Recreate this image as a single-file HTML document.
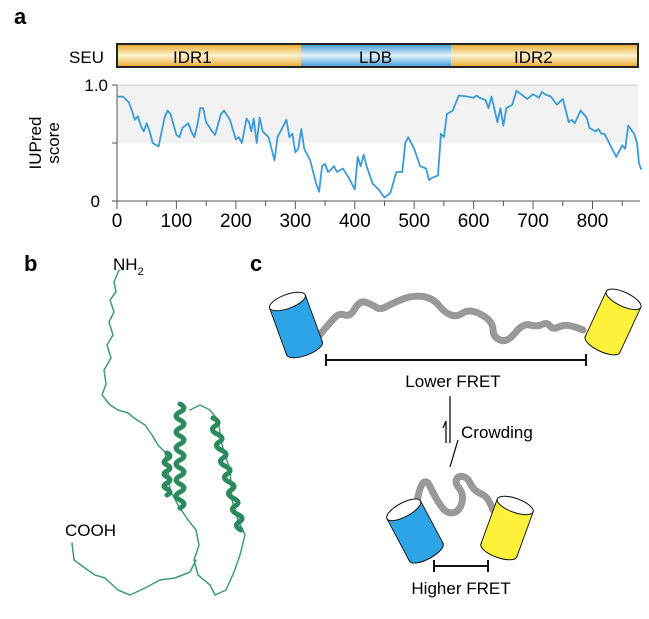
<!DOCTYPE html>
<html><head><meta charset="utf-8"><style>
html,body{margin:0;padding:0;background:#fff}
svg{display:block;font-family:"Liberation Sans",sans-serif}
</style></head><body>
<svg width="649" height="619" viewBox="0 0 649 619" xmlns="http://www.w3.org/2000/svg">
<defs>
<linearGradient id="gy" x1="0" y1="0" x2="0" y2="1">
<stop offset="0" stop-color="#e8a82a"/><stop offset="0.5" stop-color="#fdf3d0"/><stop offset="1" stop-color="#e8a82a"/></linearGradient>
<linearGradient id="gb" x1="0" y1="0" x2="0" y2="1">
<stop offset="0" stop-color="#3a9ad8"/><stop offset="0.5" stop-color="#e4f1fb"/><stop offset="1" stop-color="#3a9ad8"/></linearGradient>
</defs>
<text x="14" y="24" font-size="22" font-weight="bold">a</text>
<rect x="117" y="44" width="521" height="23" fill="url(#gy)"/>
<rect x="301" y="44" width="150" height="23" fill="url(#gb)"/>
<rect x="117" y="44" width="521" height="23" fill="none" stroke="#222" stroke-width="2"/>
<text x="69" y="63" font-size="17">SEU</text>
<text x="173" y="63" font-size="17">IDR1</text>
<text x="359" y="63" font-size="17">LDB</text>
<text x="514" y="63" font-size="17">IDR2</text>
<rect x="117" y="85" width="521" height="58" fill="#f2f2f2"/>
<line x1="117" y1="85" x2="117" y2="201" stroke="#555"/>
<line x1="117" y1="85" x2="638" y2="85" stroke="#bbb" stroke-width="0.8"/>
<line x1="117" y1="201" x2="640" y2="201" stroke="#555"/>
<line x1="112" y1="85" x2="117" y2="85" stroke="#555"/>
<line x1="112" y1="143" x2="117" y2="143" stroke="#555"/>
<line x1="112" y1="201" x2="117" y2="201" stroke="#555"/>
<text x="108" y="91" font-size="17" text-anchor="end">1.0</text>
<text x="100" y="207" font-size="17" text-anchor="end">0</text>
<text transform="translate(41,143) rotate(-90)" font-size="17" text-anchor="middle">IUPred</text>
<text transform="translate(59,143) rotate(-90)" font-size="17" text-anchor="middle">score</text>
<g stroke="#555">
<line x1="117" y1="201" x2="117" y2="209"/><line x1="146.7" y1="201" x2="146.7" y2="206"/>
<line x1="176.4" y1="201" x2="176.4" y2="209"/><line x1="206.2" y1="201" x2="206.2" y2="206"/>
<line x1="235.9" y1="201" x2="235.9" y2="209"/><line x1="265.6" y1="201" x2="265.6" y2="206"/>
<line x1="295.3" y1="201" x2="295.3" y2="209"/><line x1="325" y1="201" x2="325" y2="206"/>
<line x1="354.8" y1="201" x2="354.8" y2="209"/><line x1="384.5" y1="201" x2="384.5" y2="206"/>
<line x1="414.2" y1="201" x2="414.2" y2="209"/><line x1="443.9" y1="201" x2="443.9" y2="206"/>
<line x1="473.6" y1="201" x2="473.6" y2="209"/><line x1="503.4" y1="201" x2="503.4" y2="206"/>
<line x1="533.1" y1="201" x2="533.1" y2="209"/><line x1="562.8" y1="201" x2="562.8" y2="206"/>
<line x1="592.5" y1="201" x2="592.5" y2="209"/><line x1="622.2" y1="201" x2="622.2" y2="206"/>
</g>
<g font-size="19" text-anchor="middle">
<text x="117" y="227">0</text><text x="176.4" y="227">100</text><text x="235.9" y="227">200</text>
<text x="295.3" y="227">300</text><text x="354.8" y="227">400</text><text x="414.2" y="227">500</text>
<text x="473.6" y="227">600</text><text x="533.1" y="227">700</text><text x="592.5" y="227">800</text>
</g>
<g transform="translate(117,201) scale(0.5944,-116)">
<polyline fill="none" stroke="#3b9bd9" stroke-width="1.8" vector-effect="non-scaling-stroke" stroke-linejoin="round" points="0,0.9 10,0.9 20,0.85 25,0.78 30,0.7 35,0.73 40,0.65 45,0.6 50,0.67 55,0.6 60,0.5 70,0.47 80,0.72 85,0.78 90,0.75 100,0.57 105,0.55 110,0.63 120,0.67 125,0.6 130,0.55 135,0.65 140,0.8 145,0.8 150,0.68 160,0.6 165,0.57 175,0.75 180,0.78 190,0.7 200,0.53 205,0.55 210,0.5 218,0.71 222,0.68 226,0.6 230,0.71 235,0.5 240,0.72 245,0.6 255,0.55 260,0.45 265,0.35 270,0.55 285,0.7 290,0.55 295,0.58 300,0.42 305,0.45 310,0.62 315,0.45 325,0.35 335,0.15 340,0.08 345,0.3 350,0.32 355,0.25 360,0.27 365,0.3 370,0.25 380,0.28 390,0.2 395,0.15 400,0.1 405,0.38 410,0.3 415,0.4 420,0.3 430,0.15 440,0.1 450,0.03 460,0.07 470,0.25 480,0.25 485,0.5 490,0.55 500,0.45 510,0.3 520,0.28 525,0.18 530,0.2 540,0.22 545,0.58 550,0.55 555,0.75 565,0.78 575,0.91 590,0.9 600,0.89 605,0.91 610,0.89 620,0.87 625,0.8 630,0.9 640,0.68 645,0.8 650,0.65 655,0.8 665,0.83 672,0.95 680,0.92 690,0.88 700,0.92 710,0.89 715,0.94 720,0.92 730,0.9 740,0.83 750,0.88 760,0.68 765,0.7 770,0.67 780,0.78 790,0.72 795,0.63 805,0.6 810,0.62 815,0.58 820,0.58 830,0.48 840,0.38 850,0.48 855,0.45 860,0.65 870,0.58 875,0.5 878,0.33 882,0.27"/>
</g>

<text x="24" y="271" font-size="22" font-weight="bold">b</text>
<text x="250" y="271" font-size="22" font-weight="bold">c</text>
<text x="113" y="270" font-size="17">NH<tspan font-size="11" dy="5">2</tspan></text>
<text x="65" y="536" font-size="17">COOH</text>
<g fill="none" stroke="#3f9a78" stroke-width="1.5" stroke-linejoin="round" stroke-linecap="round">
<path d="M119,270 L114,282 L116,292 L110,300 L114,312 L109,322 L113,335 L107,345 L111,358 L104,370 L106,384 L102,395 L110,405 L118,410 L128,413 L134,418 L145,425 L152,435 L158,445 L165,452 L168,470 L170,490 L178,505 L188,520 L196,530 L199,545 L194,560 L198,575 L210,585 L215,595 L226,590 L234,572 L240,555 L245,535 L238,520 L232,500 L230,470 L222,445 L218,420 L210,410 L200,405 L190,410"/>
<path d="M72,543 L74,560 L85,568 L95,575 L105,578 L118,590 L130,595 L145,588 L160,580 L175,578 L190,572 L196,560"/>
</g>
<g fill="none" stroke="#2a8a5e" stroke-width="5" stroke-linecap="round">
<path d="M167,453 q6,3 0,6 q-6,3 0,6 q6,3 0,6 q-6,3 0,6 q6,3 0,6 q-6,3 0,6 q6,3 0,6"/>
<path d="M180,404 q8,4 0,8 q-8,4 0,8 q8,4 0,8 q-8,4 0,8 q8,4 0,8 q-8,4 0,8 q8,4 0,8 q-8,4 0,8 q8,4 0,8 q-8,4 0,8 q8,4 0,8 q-8,4 0,8 q8,4 0,8"/>
<path d="M213,418 q9,4 2,8 q-6,4 2,8 q9,4 2,8 q-6,4 2,8 q9,4 2,8 q-6,4 2,8 q9,4 2,8 q-6,4 2,8 q9,4 2,8 q-6,4 2,8 q9,4 2,8 q-6,4 2,8 q9,4 2,8 q-6,4 2,8"/>
</g>

<path fill="none" stroke="#999" stroke-width="7" stroke-linecap="round" d="M318,337 Q332,320 336,316.5 Q340,313 345,315 Q350,317 355,308.5 Q360,300 366.5,302.5 Q373,305 376.5,307.5 Q380,310 386.5,306.5 Q393,303 403,299 Q413,295 423,296.5 Q433,298 439,305.5 Q445,313 451,315 Q457,317 462,313.5 Q467,310 473.5,311.5 Q480,313 486.5,318 Q493,323 493,330 Q493,337 500,340 Q507,343 515,333 Q523,323 530,325 Q537,327 542,324.5 Q547,322 550,326 Q553,330 560,326.5 Q567,323 583,330"/>
<g transform="translate(296,325) rotate(-20)">
<rect x="-19" y="-25" width="38" height="50" fill="#2ea4e6" stroke="#111"/>
<ellipse cx="0" cy="25" rx="19" ry="7" fill="#2ea4e6" stroke="#111"/>
<rect x="-18.5" y="-24" width="37" height="48" fill="#2ea4e6"/>
<ellipse cx="0" cy="-25" rx="19" ry="7" fill="#fff" stroke="#111"/>
</g>
<g transform="translate(613,322) rotate(25)">
<rect x="-19" y="-25" width="38" height="50" fill="#fef23a" stroke="#111"/>
<ellipse cx="0" cy="25" rx="19" ry="7" fill="#fef23a" stroke="#111"/>
<rect x="-18.5" y="-24" width="37" height="48" fill="#fef23a"/>
<ellipse cx="0" cy="-25" rx="19" ry="7" fill="#fff" stroke="#111"/>
</g>
<g stroke="#111" stroke-width="2">
<line x1="326" y1="360" x2="586" y2="360"/><line x1="326" y1="354" x2="326" y2="366"/><line x1="586" y1="354" x2="586" y2="366"/>
<line x1="434" y1="566" x2="488" y2="566"/><line x1="434" y1="560" x2="434" y2="572"/><line x1="488" y1="560" x2="488" y2="572"/>
</g>
<text x="453" y="387" font-size="17" text-anchor="middle">Lower FRET</text>
<text x="461" y="594" font-size="17" text-anchor="middle">Higher FRET</text>
<text x="461" y="438" font-size="17">Crowding</text>
<g stroke="#111" stroke-width="1.3" fill="none">
<line x1="450" y1="396" x2="450" y2="443"/>
<polyline points="446,443 446,421 443,428"/>
<polyline points="458,440 450,467"/>
</g>
<path fill="none" stroke="#999" stroke-width="7" stroke-linecap="round" d="M417,502 Q420,485 423.5,482.5 Q427,480 430,486.5 Q433,493 436.5,499 Q440,505 443.5,509 Q447,513 451.5,513 Q456,513 459,509 Q462,505 462.5,499 Q463,493 459,488 Q455,483 456.5,479.5 Q458,476 462.5,476.5 Q467,477 469.5,482 Q472,487 474.5,489.5 Q477,492 482.5,494.5 Q488,497 493,510"/>
<g transform="translate(415,531) rotate(-28)">
<rect x="-19" y="-24" width="38" height="48" fill="#2ea4e6" stroke="#111"/>
<ellipse cx="0" cy="24" rx="19" ry="7" fill="#2ea4e6" stroke="#111"/>
<rect x="-18.5" y="-23" width="37" height="46" fill="#2ea4e6"/>
<ellipse cx="0" cy="-24" rx="19" ry="7" fill="#fff" stroke="#111"/>
</g>
<g transform="translate(507,528) rotate(20)">
<rect x="-19" y="-24" width="38" height="48" fill="#fef23a" stroke="#111"/>
<ellipse cx="0" cy="24" rx="19" ry="7" fill="#fef23a" stroke="#111"/>
<rect x="-18.5" y="-23" width="37" height="46" fill="#fef23a"/>
<ellipse cx="0" cy="-24" rx="19" ry="7" fill="#fff" stroke="#111"/>
</g>
</svg>
</body></html>
